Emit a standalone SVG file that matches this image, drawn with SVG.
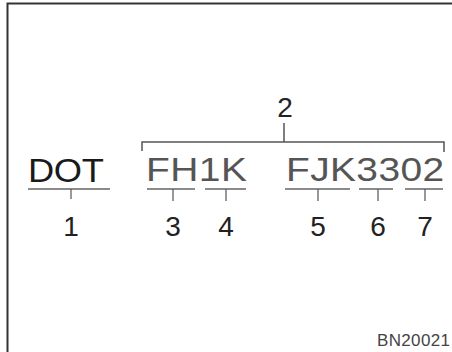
<svg xmlns="http://www.w3.org/2000/svg" width="452" height="352" viewBox="0 0 452 352">
<style>
.code{font-family:"Liberation Sans",Arial,sans-serif;font-size:33px}
.num{font-family:"Liberation Sans",Arial,sans-serif;font-size:28px;fill:#222;text-anchor:middle}
.ul{stroke:#666;stroke-width:1.6;fill:none}
.tk{stroke:#555;stroke-width:1.2;fill:none}
.br{stroke:#555;stroke-width:1.5;fill:none}
</style>
<rect x="0" y="0" width="452" height="352" fill="#fff"/>
<rect x="7.5" y="3.5" width="460" height="360" fill="none" stroke="#333" stroke-width="2"/>
<g id="codes">
<text class="code" transform="translate(28,182) scale(1.1,1)" fill="#1a1a1a" textLength="69" lengthAdjust="spacing">DOT</text>
<text class="code" transform="translate(146,181) scale(1.18,1)" fill="#555" textLength="85.6" lengthAdjust="spacing">FH1K</text>
<text class="code" transform="translate(286,181) scale(1.18,1)" fill="#555" textLength="134" lengthAdjust="spacing">FJK3302</text>
</g>
<g id="connectors">
<path class="ul" d="M28 189H110M147 189H195M205 189H246M285 189H350M359 189H393M405 189H443"/>
<path class="tk" d="M71 189V199M173 189V201M226 189V201M318 189V201M378 189V201M425 189V201"/>
<path class="br" d="M142 151V142H444V152M284 142V123"/>
</g>
<g id="n1"><text class="num" x="71" y="236">1</text></g>
<g id="n2"><text class="num" x="285" y="117">2</text></g>
<g id="n3"><text class="num" x="173" y="236">3</text></g>
<g id="n4"><text class="num" x="226" y="236">4</text></g>
<g id="n5"><text class="num" x="318" y="236">5</text></g>
<g id="n6"><text class="num" x="378" y="236">6</text></g>
<g id="n7"><text class="num" x="425" y="236">7</text></g>
<g id="ref"><text x="377" y="346" font-family="Liberation Sans,Arial,sans-serif" font-size="17" fill="#444" textLength="73" lengthAdjust="spacing">BN20021</text></g>
</svg>
